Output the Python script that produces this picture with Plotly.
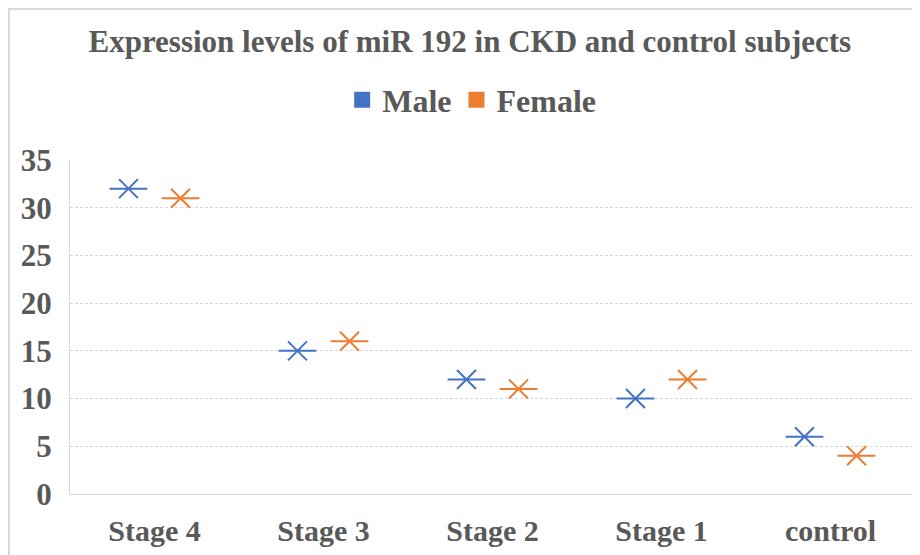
import plotly.graph_objects as go

categories = ["Stage 4", "Stage 3", "Stage 2", "Stage 1", "control"]
male = [32, 15, 12, 10, 6]
female = [31, 16, 11, 12, 4]
y_ticks = [0, 5, 10, 15, 20, 25, 30, 35]

MALE_C = "#4472C4"
FEMALE_C = "#ED7D31"
TXT = "#595959"
FONT = "Liberation Serif"

fig = go.Figure()
for name, vals, col, grp in [("Male", male, MALE_C, "m"), ("Female", female, FEMALE_C, "f")]:
    fig.add_trace(go.Scatter(x=categories, y=vals, mode="markers", offsetgroup=grp,
                             showlegend=False, hoverinfo="skip",
                             marker=dict(symbol="line-ew", size=27, color=col,
                                         line=dict(color=col, width=2))))
    fig.add_trace(go.Scatter(x=categories, y=vals, mode="markers", offsetgroup=grp,
                             showlegend=False, name=name,
                             marker=dict(symbol="x-thin", size=19, color=col,
                                         line=dict(color=col, width=2))))
    fig.add_trace(go.Scatter(x=[None], y=[None], mode="markers", name=f"<b>{name}</b>",
                             marker=dict(symbol="square", size=19, color=col)))

fig.update_layout(
    width=920, height=555,
    margin=dict(l=62, r=13, t=152, b=69),
    paper_bgcolor="white", plot_bgcolor="white",
    scattermode="group", scattergap=0.384,
    font=dict(family=FONT, color=TXT, size=28),
    title=dict(text="<b>Expression levels of miR 192 in CKD and control subjects</b>",
               xref="container", x=0.502, xanchor="center",
               yref="container", y=1 - 33 / 555, yanchor="middle",
               font=dict(family=FONT, size=31, color=TXT)),
    legend=dict(orientation="h", xref="container", x=0.504, xanchor="center",
                yref="container", y=1 - 92 / 555, yanchor="middle",
                font=dict(family=FONT, size=32, color=TXT), itemwidth=30,
                traceorder="normal"),
    xaxis=dict(type="category", categoryorder="array", categoryarray=categories,
               range=[-0.5, 4.5], showgrid=False, showline=True, linecolor="#d9d9d9",
               linewidth=1, ticks="outside", ticklen=10, tickcolor="rgba(0,0,0,0)",
               automargin=False,
               tickfont=dict(family=FONT, size=30, color=TXT),
               tickvals=categories, ticktext=[f"<b>{c}</b>" for c in categories]),
    yaxis=dict(range=[0, 35], tickvals=y_ticks, ticktext=[f"<b>{v}</b>" for v in y_ticks],
               showgrid=True, gridcolor="#d9d9d9", griddash="3px,2px", gridwidth=1,
               showline=True, linecolor="#d9d9d9", linewidth=1, zeroline=False,
               ticks="outside", ticklen=11, tickcolor="rgba(0,0,0,0)",
               automargin=False,
               tickfont=dict(family=FONT, size=31, color=TXT)),
)

# outer chart frame (partially visible in the crop)
fig.add_shape(type="path", xref="paper", yref="paper",
              path="M -0.0722,-0.3 L -0.0722,1.452 L 1.2,1.452",
              line=dict(color="#d9d9d9", width=2))

fig.write_html("out.html")
